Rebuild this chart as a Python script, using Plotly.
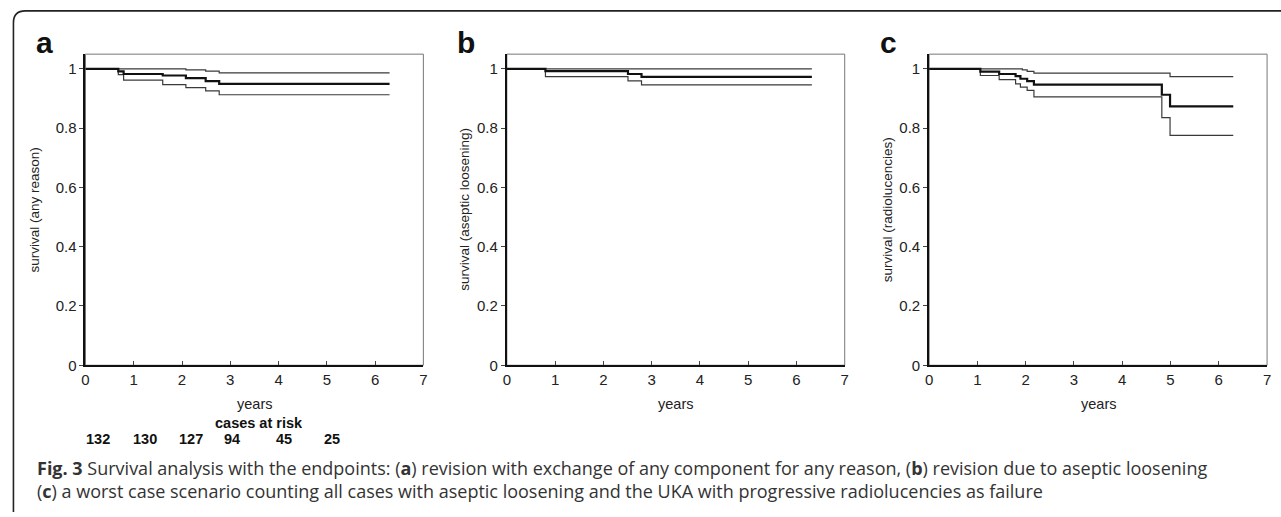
import plotly.graph_objects as go

W, H = 1281, 517

# ---------------- data ----------------
years_ticks = [0, 1, 2, 3, 4, 5, 6, 7]
surv_ticks = [0, 0.2, 0.4, 0.6, 0.8, 1.0]
surv_tick_labels = ["0", "0.2", "0.4", "0.6", "0.8", "1"]

# panel a: any reason
a_mid_x = [0, 0.68, 0.79, 1.6, 2.08, 2.49, 2.77, 6.3]
a_mid_y = [1, 0.992, 0.983, 0.978, 0.969, 0.959, 0.950, 0.950]
a_up_x = [0, 2.08, 2.49, 2.77, 6.3]
a_up_y = [1, 0.997, 0.993, 0.987, 0.987]
a_low_x = [0, 0.68, 0.79, 1.6, 2.08, 2.49, 2.77, 6.3]
a_low_y = [1, 0.981, 0.962, 0.947, 0.937, 0.926, 0.913, 0.913]

# panel b: aseptic loosening
b_mid_x = [0, 0.8, 2.51, 2.79, 6.32]
b_mid_y = [1, 0.993, 0.983, 0.973, 0.973]
b_up_x = [0, 6.32]
b_up_y = [1, 1]
b_low_x = [0, 0.8, 2.51, 2.79, 6.32]
b_low_y = [1, 0.974, 0.960, 0.946, 0.946]

# panel c: radiolucencies
c_mid_x = [0, 1.06, 1.45, 1.79, 1.89, 2.03, 2.17, 4.82, 4.99, 6.3]
c_mid_y = [1, 0.991, 0.983, 0.976, 0.967, 0.959, 0.947, 0.913, 0.874, 0.874]
c_up_x = [0, 1.93, 2.03, 2.17, 4.99, 6.3]
c_up_y = [1, 0.997, 0.992, 0.986, 0.974, 0.974]
c_low_x = [0, 1.06, 1.45, 1.79, 1.89, 2.03, 2.17, 4.82, 4.99, 6.3]
c_low_y = [1, 0.978, 0.964, 0.950, 0.939, 0.928, 0.906, 0.836, 0.776, 0.776]

cases_at_risk = ["132", "130", "127", "94", "45", "25"]
cases_x = [0.25, 1.23, 2.18, 3.04, 4.11, 5.10]

panel_letters = ["a", "b", "c"]
y_titles = ["survival (any reason)", "survival (aseptic loosening)", "survival (radiolucencies)"]
x_title = "years"
caption_1 = ("<b>Fig. 3</b> Survival analysis with the endpoints: (<b>a</b>) revision with exchange of any "
             "component for any reason, (<b>b</b>) revision due to aseptic loosening")
caption_2 = ("(<b>c</b>) a worst case scenario counting all cases with aseptic loosening and the UKA with "
             "progressive radiolucencies as failure")

# ---------------- layout helpers ----------------
def px_x(p):
    return p / W

def px_y(p):
    return 1 - p / H

panel_left = [82, 506, 931]
panel_w = 340
plot_top, plot_bottom = 55, 371
AXF = "Liberation Sans, Arial, sans-serif"

fig = go.Figure()

series = [
    [(a_up_x, a_up_y), (a_low_x, a_low_y), (a_mid_x, a_mid_y)],
    [(b_up_x, b_up_y), (b_low_x, b_low_y), (b_mid_x, b_mid_y)],
    [(c_up_x, c_up_y), (c_low_x, c_low_y), (c_mid_x, c_mid_y)],
]

annotations = []
shapes = []
for i in range(3):
    xa = "x" if i == 0 else f"x{i+1}"
    ya = "y" if i == 0 else f"y{i+1}"
    for j, (xs, ys) in enumerate(series[i]):
        thick = (j == 2)
        fig.add_trace(go.Scatter(
            x=xs, y=ys, mode="lines", line_shape="hv",
            line=dict(color="#111111" if thick else "#3a3a3a", width=2.2 if thick else 1.2),
            xaxis=xa, yaxis=ya, showlegend=False, hoverinfo="skip"))
    l = panel_left[i]
    xdom = [px_x(l), px_x(l + panel_w)]
    ydom = [px_y(plot_bottom), px_y(plot_top)]
    axkey = "xaxis" if i == 0 else f"xaxis{i+1}"
    aykey = "yaxis" if i == 0 else f"yaxis{i+1}"
    fig.update_layout({
        axkey: dict(domain=xdom, range=[0, 7], tickvals=years_ticks, ticks="inside", ticklen=4,
                    tickcolor="#444", showgrid=False, zeroline=False, showline=True,
                    linecolor="#111", linewidth=2, anchor=ya, ticklabeloverflow="allow",
                    tickfont=dict(family=AXF, size=15, color="#222"), fixedrange=True),
        aykey: dict(domain=ydom, range=[0, 1.05], tickvals=surv_ticks, ticktext=surv_tick_labels,
                    ticks="outside", ticklen=4, tickcolor="#444", showgrid=False, zeroline=False,
                    showline=True, linecolor="#111", linewidth=2, anchor=xa,
                    ticklabeloverflow="allow",
                    tickfont=dict(family=AXF, size=15, color="#222"), fixedrange=True),
    })
    # thin gray frame of plot box
    shapes.append(dict(type="rect", xref=f"{xa} domain", yref=f"{ya} domain", x0=0, x1=1, y0=0, y1=1,
                       line=dict(color="#777", width=1), layer="below"))
    # panel letter
    annotations.append(dict(text=f"<b>{panel_letters[i]}</b>", x=px_x(l - 52), y=px_y(43),
                            xref="paper", yref="paper", xanchor="left", yanchor="middle",
                            showarrow=False, font=dict(family=AXF, size=30, color="#111")))
    # y title
    annotations.append(dict(text=y_titles[i], x=px_x(l - (51 if i == 0 else 42)), y=px_y(213),
                            xref="paper", yref="paper", xanchor="center", yanchor="middle",
                            textangle=-90, showarrow=False,
                            font=dict(family=AXF, size=13.5, color="#222")))
    # x title
    annotations.append(dict(text=x_title, x=3.5, xref=xa, y=px_y(410), yref="paper",
                            xanchor="center", yanchor="middle", showarrow=False,
                            font=dict(family=AXF, size=14.5, color="#222")))

# cases at risk (panel a)
annotations.append(dict(text="<b>cases at risk</b>", x=3.6, xref="x", y=px_y(430), yref="paper",
                        xanchor="center", yanchor="middle", showarrow=False,
                        font=dict(family=AXF, size=14.5, color="#111")))
for cx, ct in zip(cases_x, cases_at_risk):
    annotations.append(dict(text=f"<b>{ct}</b>", x=cx, xref="x", y=px_y(446), yref="paper",
                            xanchor="center", yanchor="middle", showarrow=False,
                            font=dict(family=AXF, size=14.5, color="#111")))

# caption (two lines in one text block)
CAPF = "Open Sans, Noto Sans, sans-serif"
annotations.append(dict(text=caption_1 + "<br>" + caption_2, x=px_x(31), y=px_y(487),
                        xref="paper", yref="paper", xanchor="left", yanchor="middle",
                        showarrow=False, align="left",
                        font=dict(family=CAPF, size=18, color="#333")))

# outer rounded frame (open on the right/bottom)
x0, y0, r = px_x(9.5), px_y(11), 12
path = (f"M {x0},{px_y(520)} L {x0},{px_y(11 + r)} "
        f"Q {x0},{y0} {px_x(9.5 + r)},{y0} L {px_x(1290)},{y0}")
shapes.append(dict(type="path", xref="paper", yref="paper", path=path,
                   line=dict(color="#222", width=1.6)))

fig.update_layout(width=W, height=H, margin=dict(l=0, r=0, t=0, b=0),
                  paper_bgcolor="white", plot_bgcolor="white",
                  annotations=annotations, shapes=shapes, showlegend=False)

fig.write_html("out.html", config={"displayModeBar": False},
               post_script="document.body.style.margin='0';document.body.style.overflow='hidden';")
